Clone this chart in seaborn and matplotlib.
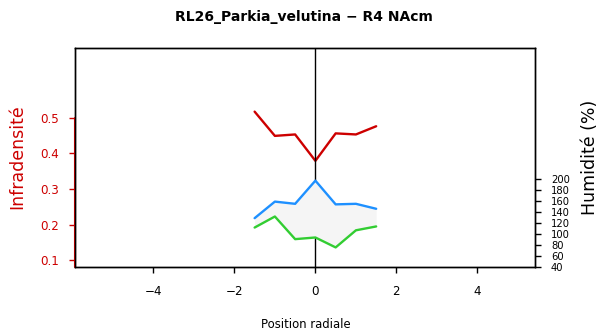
import numpy as np
import pandas as pd
import matplotlib
matplotlib.use("Agg")
import matplotlib.pyplot as plt
import seaborn as sns

# Données
position = [-1.5, -1.0, -0.5, 0.0, 0.5, 1.0, 1.5]
infradensite = [0.517, 0.449, 0.453, 0.379, 0.456, 0.453, 0.476]
humidite_max = [129, 159, 155, 197, 154, 155, 146]
humidite_min = [112, 132, 91, 94, 76, 107, 114]
ticks_x = [-4, -2, 0, 2, 4]
ticks_infra = [0.1, 0.2, 0.3, 0.4, 0.5]
ticks_hum = [40, 60, 80, 100, 120, 140, 160, 180, 200]

df = pd.DataFrame({"position": position, "infra": infradensite,
                   "hmax": humidite_max, "hmin": humidite_min})

sns.set_style("white")
plt.rcParams['font.family'] = ['DejaVu Sans']
plt.rcParams['text.color'] = 'black'
plt.rcParams['axes.labelcolor'] = 'black'

rouge = "#CD0000"
bleu = "#1E90FF"
vert = "#32CD32"

fig = plt.figure(figsize=(6.05, 3.36), dpi=100)
ax = fig.add_axes([0.1235, 0.2045, 0.7608, 0.6518])
xmin, xmax = -5.94, 5.42
ymin, ymax = 0.0804, 0.6947

# Courbe d'infradensité (axe gauche)
sns.lineplot(data=df, x="position", y="infra", ax=ax, color=rouge, lw=1.7)
ax.set_xlim(xmin, xmax)
ax.set_ylim(ymin, ymax)
ax.set_xticks(ticks_x)
ax.set_xticklabels([str(t).replace("-", "\u2212") for t in ticks_x])
ax.set_yticks(ticks_infra)
ax.set_yticklabels([f"{t:.1f}" for t in ticks_infra], color=rouge)
ax.tick_params(axis="y", colors=rouge, length=4.5, width=1, direction="out",
               pad=7, labelsize=8.6, left=True)
ax.tick_params(axis="x", colors="black", length=4.5, width=1, direction="out",
               pad=8, labelsize=8.6, bottom=True)
ax.set_xlabel("")
ax.set_ylabel("")
for s in ax.spines.values():
    s.set_color("black")
    s.set_linewidth(1)
ax.plot([xmin, xmin], [ymin, ticks_infra[-1]], color=rouge, lw=1.5,
        clip_on=False, zorder=5)
ax.axvline(0, color="black", lw=1)

# Humidité (axe droit)
ax2 = ax.twinx()
ax2.fill_between(df["position"], df["hmin"], df["hmax"], color="#F5F5F5", lw=0)
sns.lineplot(data=df, x="position", y="hmax", ax=ax2, color=bleu, lw=1.7)
sns.lineplot(data=df, x="position", y="hmin", ax=ax2, color=vert, lw=1.7)
ax2.set_ylim(40, 436.8)
ax2.set_yticks(ticks_hum)
ax2.set_yticklabels([str(t) for t in ticks_hum])
ax2.tick_params(axis="y", colors="black", length=4.5, width=1, direction="out",
                pad=7, labelsize=7.2, right=True)
ax2.set_ylabel("")
ax2.set_xlabel("")
for s in ax2.spines.values():
    s.set_color("black")
    s.set_linewidth(1)

fig.text(0.503, 0.948, "RL26_Parkia_velutina \u2212 R4 NAcm", ha="center",
         va="center", fontsize=10, fontweight="bold", color="black")
fig.text(0.505, 0.035, "Position radiale", ha="center", va="center",
         fontsize=8.4, color="black")
fig.text(0.028, 0.533, "Infradensité", rotation=90, ha="center", va="center",
         fontsize=12.5, color=rouge)
fig.text(0.975, 0.533, "Humidité (%)", rotation=90, ha="center", va="center",
         fontsize=12.5, color="black")

fig.savefig("out.png", dpi=100)
plt.close(fig)
